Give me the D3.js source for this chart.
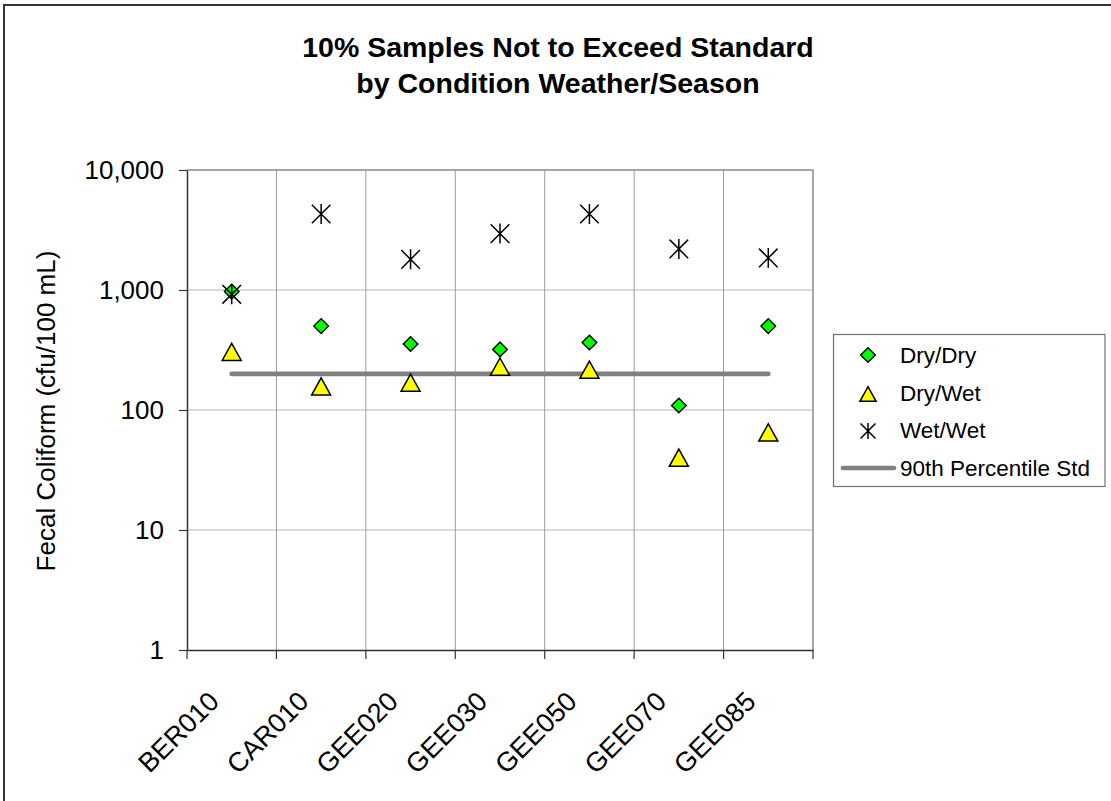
<!DOCTYPE html>
<html>
<head>
<meta charset="utf-8">
<script src="https://cdn.jsdelivr.net/npm/d3@7"></script>
<style>
  html, body { margin: 0; padding: 0; background: #fff; }
  svg { display: block; }
  text { font-family: "Liberation Sans", Arial, Helvetica, sans-serif; fill: #000; }
</style>
</head>
<body>
<svg id="chart" width="1111" height="801"></svg>
<script>
// ---- Data ----
const categories = ["BER010", "CAR010", "GEE020", "GEE030", "GEE050", "GEE070", "GEE085"];
const dryDry = [970, 500, 355, 320, 365, 109, 500];
const dryWet = [305, 157, 169, 230, 217, 40, 65];
const wetWet = [920, 4300, 1800, 2950, 4300, 2200, 1850];
const std90 = [200, 200, 200, 200, 200, 200, 200];
const yTicks = [1, 10, 100, 1000, 10000];
const titleLines = ["10% Samples Not to Exceed Standard", "by Condition Weather/Season"];
const yLabel = "Fecal Coliform (cfu/100 mL)";
const legendItems = ["Dry/Dry", "Dry/Wet", "Wet/Wet", "90th Percentile Std"];

// ---- Layout ----
const svg = d3.select("#chart");
const plot = { left: 187, right: 813, top: 170, bottom: 650 };

const x = d3.scaleBand().domain(categories).range([plot.left, plot.right]).padding(0);
const y = d3.scaleLog().domain([1, 10000]).range([plot.bottom, plot.top]);
const cx = c => x(c) + x.bandwidth() / 2;

// outer chart border (extends beyond canvas on right/bottom)
svg.append("rect")
  .attr("x", 4).attr("y", 5).attr("width", 1130).attr("height", 820)
  .attr("fill", "#fff").attr("stroke", "#333").attr("stroke-width", 2);

// Title
const title = svg.append("text")
  .attr("text-anchor", "middle")
  .style("font-weight", "bold").style("font-size", "28.5px");
titleLines.forEach((t, i) => {
  title.append("tspan").attr("x", 558).attr("y", 57 + i * 36).text(t);
});

// Gridlines
const grid = svg.append("g");
grid.selectAll("line.h").data(yTicks.filter(v => v > 1 && v < 10000)).enter()
  .append("line")
  .attr("x1", plot.left).attr("x2", plot.right)
  .attr("y1", d => y(d)).attr("y2", d => y(d))
  .attr("stroke", "#b4b4b4").attr("stroke-width", 1);
grid.selectAll("line.v").data(categories.slice(1)).enter()
  .append("line")
  .attr("x1", d => x(d)).attr("x2", d => x(d))
  .attr("y1", plot.top).attr("y2", plot.bottom)
  .attr("stroke", "#9a9a9a").attr("stroke-width", 1);

// Plot border (top & right)
svg.append("path")
  .attr("d", `M${plot.left},${plot.top}H${plot.right}V${plot.bottom}`)
  .attr("fill", "none").attr("stroke", "#8a8a8a").attr("stroke-width", 1.5);

// Y axis
const yAxis = d3.axisLeft(y)
  .tickValues(yTicks)
  .tickFormat(d3.format(","))
  .tickSizeInner(8).tickSizeOuter(0).tickPadding(15);
const gy = svg.append("g").attr("transform", `translate(${plot.left},0)`).call(yAxis);
gy.select(".domain").attr("stroke", "#333").attr("stroke-width", 1.5);
gy.selectAll(".tick line").attr("stroke", "#333").attr("stroke-width", 1.2);
gy.selectAll(".tick text")
  .style("font-size", "26px").style("font-family", "'Liberation Sans', Arial, sans-serif")
  .attr("fill", "#000");

// X axis
const xAxis = d3.axisBottom(x).tickSize(0).tickFormat("");
const gx = svg.append("g").attr("transform", `translate(0,${plot.bottom})`).call(xAxis);
gx.select(".domain").attr("stroke", "#333").attr("stroke-width", 1.5);
gx.selectAll(".tick").remove();
const boundaries = categories.map(c => x(c)).concat([x(categories[categories.length - 1]) + x.bandwidth()]);
gx.selectAll("line.bt").data(boundaries).enter()
  .append("line")
  .attr("x1", d => d).attr("x2", d => d)
  .attr("y1", 0).attr("y2", 9)
  .attr("stroke", "#333").attr("stroke-width", 1.2);
svg.append("g").selectAll("text").data(categories).enter()
  .append("text")
  .attr("transform", d => `translate(${cx(d) - 11},${plot.bottom + 53}) rotate(-45)`)
  .attr("text-anchor", "end")
  .style("font-size", "27px")
  .text(d => d);

// Y axis label
svg.append("text")
  .attr("transform", `translate(55,411) rotate(-90)`)
  .attr("text-anchor", "middle")
  .style("font-size", "26px")
  .text(yLabel);

// ---- Marker shapes ----
const diamondPath = "M0,-7.3L7.3,0L0,7.3L-7.3,0Z";
const trianglePath = s => `M0,${-8.6 * s}L${9.5 * s},${8.6 * s}L${-9.5 * s},${8.6 * s}Z`;
const asteriskPath = s => `M0,${-10 * s}V${10 * s}M${-9.3 * s},${-9.3 * s}L${9.3 * s},${9.3 * s}M${9.3 * s},${-9.3 * s}L${-9.3 * s},${9.3 * s}`;

// 90th percentile standard line
const line = d3.line().x((d, i) => cx(categories[i])).y(d => y(d));
svg.append("path")
  .datum(std90)
  .attr("d", line)
  .attr("fill", "none").attr("stroke", "#808080").attr("stroke-width", 4.7)
  .attr("stroke-linecap", "round");

// Dry/Dry diamonds
svg.append("g").selectAll("path").data(dryDry).enter()
  .append("path")
  .attr("transform", (d, i) => `translate(${cx(categories[i])},${y(d)})`)
  .attr("d", diamondPath)
  .attr("fill", "#00ff00").attr("stroke", "#000").attr("stroke-width", 1.4);

// Dry/Wet triangles
svg.append("g").selectAll("path").data(dryWet).enter()
  .append("path")
  .attr("transform", (d, i) => `translate(${cx(categories[i])},${y(d)})`)
  .attr("d", trianglePath(1))
  .attr("fill", "#ffff00").attr("stroke", "#000").attr("stroke-width", 1.5)
  .attr("stroke-linejoin", "miter");

// Wet/Wet asterisks
svg.append("g").selectAll("path").data(wetWet).enter()
  .append("path")
  .attr("transform", (d, i) => `translate(${cx(categories[i])},${y(d)})`)
  .attr("d", asteriskPath(1))
  .attr("fill", "none").attr("stroke", "#000").attr("stroke-width", 1.5);

// ---- Legend ----
const lg = svg.append("g");
lg.append("rect")
  .attr("x", 833.5).attr("y", 334.5).attr("width", 271.5).attr("height", 152)
  .attr("fill", "#fff").attr("stroke", "#707070").attr("stroke-width", 1.2);
const legY = [355, 393, 430, 468];
legendItems.forEach((name, i) => {
  const gy_ = legY[i];
  if (i === 0) {
    lg.append("path").attr("transform", `translate(868,${gy_})`).attr("d", diamondPath)
      .attr("fill", "#00ff00").attr("stroke", "#000").attr("stroke-width", 1.4);
  } else if (i === 1) {
    lg.append("path").attr("transform", `translate(868,${gy_ + 1})`).attr("d", trianglePath(0.85))
      .attr("fill", "#ffff00").attr("stroke", "#000").attr("stroke-width", 1.5);
  } else if (i === 2) {
    lg.append("path").attr("transform", `translate(868,${gy_ + 1})`).attr("d", asteriskPath(0.8))
      .attr("fill", "none").attr("stroke", "#000").attr("stroke-width", 1.5);
  } else {
    lg.append("line").attr("x1", 843).attr("x2", 894).attr("y1", gy_).attr("y2", gy_)
      .attr("stroke", "#808080").attr("stroke-width", 4.7).attr("stroke-linecap", "round");
  }
  lg.append("text").attr("x", 900).attr("y", gy_).attr("dy", "0.36em")
    .style("font-size", "22.5px").text(name);
});
</script>
</body>
</html>
